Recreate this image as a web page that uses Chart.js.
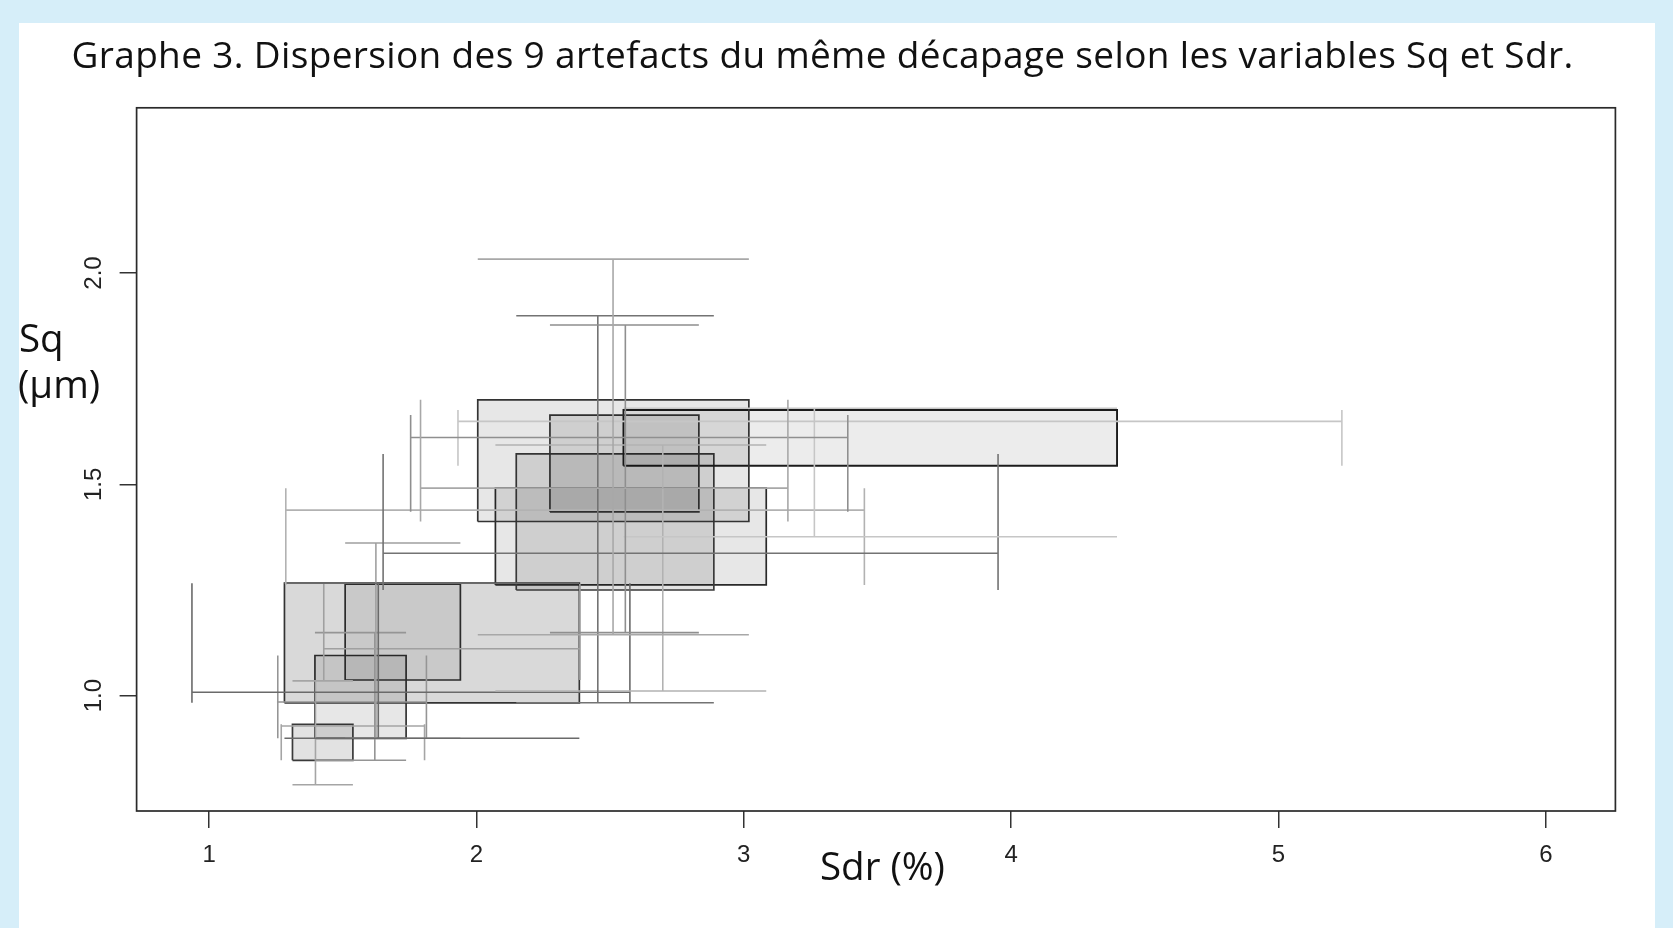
<!DOCTYPE html>
<html>
<head>
<meta charset="utf-8">
<script src="https://cdn.jsdelivr.net/npm/chart.js@4.4.1/dist/chart.umd.min.js"></script>
<style>
  html, body { margin: 0; padding: 0; }
  body { width: 1673px; height: 928px; background: #d6eef9; position: relative; overflow: hidden; }
  #panel { position: absolute; left: 19px; top: 23px; width: 1636px; height: 905px; background: #ffffff; }
  #wrap { position: absolute; left: 0; top: 0; width: 1673px; height: 928px; }
  .lbl { position: absolute; white-space: nowrap; color: #111; line-height: 1; font-family: "Open Sans", "Noto Sans", sans-serif; }
  #title { left: 71.5px; top: 35.3px; font-size: 37px; }
  #ylab1 { left: 19px; top: 318px; font-size: 38.5px; }
  #ylab2 { left: 18px; top: 364px; font-size: 38.5px; }
  #xlab { left: 820px; top: 846px; font-size: 38.5px; }
</style>
</head>
<body>
<div id="panel"></div>
<div id="wrap"><canvas id="chart" width="1673" height="928"></canvas></div>
<div id="title" class="lbl">Graphe 3. Dispersion des 9 artefacts du même décapage selon les variables Sq et Sdr.</div>
<div id="ylab1" class="lbl">Sq</div>
<div id="ylab2" class="lbl">(µm)</div>
<div id="xlab" class="lbl">Sdr (%)</div>
<script>
// ---- data ----
const artefacts = ['A1', 'A2', 'A3', 'A4', 'A5', 'A6', 'A7', 'A8', 'A9'];
// Sdr (x): quartiles, median and whisker ends
const sdrQ1  = [2.005, 2.275, 2.550, 2.149, 2.071, 1.282, 1.509, 1.396, 1.312];
const sdrQ3  = [3.019, 2.832, 4.396, 2.888, 3.084, 2.385, 1.940, 1.737, 1.538];
const sdrMed = [2.511, 2.557, 3.264, 2.454, 2.697, 1.633, 1.624, 1.620, 1.398];
const sdrMin = [1.791, 1.754, 1.931, 1.651, 1.287, 0.936, 1.429, 1.257, 1.270];
const sdrMax = [3.165, 3.389, 5.237, 3.951, 3.451, 2.574, 2.387, 1.813, 1.806];
// Sq (y): quartiles, median and whisker ends
const sqQ1  = [1.412, 1.435, 1.544, 1.250, 1.262, 0.983, 1.037, 0.899, 0.847];
const sqQ3  = [1.700, 1.664, 1.676, 1.572, 1.491, 1.266, 1.264, 1.095, 0.932];
const sqMed = [1.491, 1.611, 1.649, 1.337, 1.439, 1.008, 1.111, 0.985, 0.928];
const sqMin = [1.144, 1.149, 1.376, 0.983, 1.011, 0.899, 0.899, 0.847, 0.789];
const sqMax = [2.033, 1.877, 1.680, 1.899, 1.593, 1.266, 1.361, 1.149, 1.035];
// axes
const xTickValues = [1, 2, 3, 4, 5, 6];
const xTickLabels = ['1', '2', '3', '4', '5', '6'];
const yTickValues = [1.0, 1.5, 2.0];
const yTickLabels = ['1.0', '1.5', '2.0'];
const xRange = [0.729, 6.26];
const yRange = [0.727, 2.391];

// ---- styles ----
const boxFill = ['rgba(0,0,0,0.095)', 'rgba(0,0,0,0.105)', 'rgba(0,0,0,0.075)', 'rgba(0,0,0,0.105)', 'rgba(0,0,0,0.095)',
                 'rgba(0,0,0,0.15)', 'rgba(0,0,0,0.075)', 'rgba(0,0,0,0.095)', 'rgba(0,0,0,0.115)'];
const boxEdge = ['#333', '#333', '#1c1c1c', '#3a3a3a', '#2a2a2a', '#333', '#333', '#333', '#3a3a3a'];
const whiskerColor = ['#a8a8a8', '#8f8f8f', '#c6c6c6', '#737373', '#b2b2b2', '#6a6a6a', '#a0a0a0', '#959595', '#a5a5a5'];

const gap = (x) => ({ x: x, y: null });
const datasets = [];
artefacts.forEach((name, i) => {
  datasets.push({
    label: name + ' box',
    data: [
      { x: sdrQ1[i], y: sqQ1[i] }, { x: sdrQ3[i], y: sqQ1[i] },
      { x: sdrQ3[i], y: sqQ3[i] }, { x: sdrQ1[i], y: sqQ3[i] },
      { x: sdrQ1[i], y: sqQ1[i] }
    ],
    fill: 'shape',
    backgroundColor: boxFill[i],
    borderColor: boxEdge[i],
    borderWidth: i === 2 ? 1.9 : 1.7,
    pointRadius: 0,
    tension: 0,
    order: 2
  });
  datasets.push({
    label: name + ' whiskers',
    data: [
      { x: sdrMin[i], y: sqMed[i] }, { x: sdrMax[i], y: sqMed[i] }, gap(sdrMax[i]),
      { x: sdrMin[i], y: sqQ1[i] }, { x: sdrMin[i], y: sqQ3[i] }, gap(sdrMin[i]),
      { x: sdrMax[i], y: sqQ1[i] }, { x: sdrMax[i], y: sqQ3[i] }, gap(sdrMax[i]),
      { x: sdrMed[i], y: sqMin[i] }, { x: sdrMed[i], y: sqMax[i] }, gap(sdrMed[i]),
      { x: sdrQ1[i], y: sqMin[i] }, { x: sdrQ3[i], y: sqMin[i] }, gap(sdrQ3[i]),
      { x: sdrQ1[i], y: sqMax[i] }, { x: sdrQ3[i], y: sqMax[i] }
    ],
    fill: false,
    borderColor: whiskerColor[i],
    borderWidth: 1.6,
    pointRadius: 0,
    tension: 0,
    spanGaps: false,
    order: 1
  });
});

const framePlugin = {
  id: 'frame',
  afterDraw(chart) {
    const a = chart.chartArea, ctx = chart.ctx;
    ctx.save();
    ctx.strokeStyle = '#2a2a2a';
    ctx.lineWidth = 1.7;
    ctx.strokeRect(a.left, a.top, a.right - a.left, a.bottom - a.top);
    ctx.restore();
  }
};
const yLabelPlugin = {
  id: 'yTickLabels',
  afterDraw(chart) {
    const s = chart.scales.y, ctx = chart.ctx;
    ctx.save();
    ctx.font = '24px "Liberation Sans", Arial, sans-serif';
    ctx.fillStyle = '#222';
    ctx.textAlign = 'center';
    ctx.textBaseline = 'middle';
    yTickValues.forEach((v, i) => {
      const py = s.getPixelForValue(v);
      ctx.save();
      ctx.translate(chart.chartArea.left - 42, py);
      ctx.rotate(-Math.PI / 2);
      ctx.fillText(yTickLabels[i], 0, 0);
      ctx.restore();
    });
    ctx.restore();
  }
};

new Chart(document.getElementById('chart'), {
  type: 'line',
  data: { datasets: datasets },
  options: {
    responsive: false,
    animation: false,
    devicePixelRatio: 1,
    layout: { padding: { left: 96.6, right: 57.6, top: 107.8, bottom: 57 } },
    plugins: { legend: { display: false }, tooltip: { enabled: false }, title: { display: false } },
    scales: {
      x: {
        type: 'linear',
        min: xRange[0], max: xRange[1],
        afterBuildTicks: (s) => { s.ticks = xTickValues.map(v => ({ value: v })); },
        afterFit: (s) => { s.height = 60; },
        ticks: {
          callback: (v, i) => xTickLabels[i],
          font: { family: '"Liberation Sans", Arial, sans-serif', size: 24 },
          color: '#222', padding: 13, maxRotation: 0, autoSkip: false
        },
        grid: { display: true, drawOnChartArea: false, drawTicks: true, tickLength: 17, color: '#333', lineWidth: 1.5 },
        border: { display: false }
      },
      y: {
        type: 'linear',
        min: yRange[0], max: yRange[1],
        afterBuildTicks: (s) => { s.ticks = yTickValues.map(v => ({ value: v })); },
        afterFit: (s) => { s.width = 40; },
        ticks: { display: false },
        grid: { display: true, drawOnChartArea: false, drawTicks: true, tickLength: 17, color: '#333', lineWidth: 1.5 },
        border: { display: false }
      }
    }
  },
  plugins: [framePlugin, yLabelPlugin]
});

// fit the title to the width it has in the reference
const t = document.getElementById('title');
const w = t.getBoundingClientRect().width;
t.style.letterSpacing = ((1502 - w) / t.textContent.length) + 'px';
</script>
</body>
</html>
